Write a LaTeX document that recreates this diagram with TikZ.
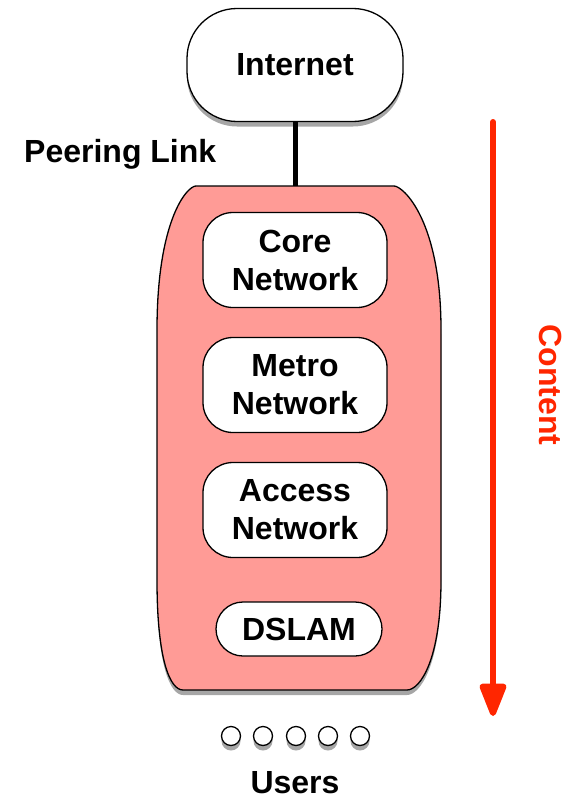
\documentclass[tikz,border=0pt]{standalone}
\usepackage{fontspec}
\setmainfont{Liberation Sans}
\usetikzlibrary{arrows.meta,shadows}
\definecolor{cloudpink}{RGB}{255,155,150}
\definecolor{contentred}{RGB}{255,38,0}
\tikzset{
  shad/.style={drop shadow={shadow xshift=0pt,shadow yshift=-5pt,opacity=0.35,fill=black}},
  netbox/.style={draw=black,line width=1.3pt,fill=white,rounded corners=30pt,align=center,
    font=\fontsize{32}{38}\selectfont\bfseries,inner sep=0pt},
  lbl/.style={font=\fontsize{32}{38}\selectfont\bfseries,inner sep=0pt},
  userdot/.style={circle,draw=black,line width=1.3pt,fill=white,minimum size=19pt,inner sep=0pt,shad},
}
\begin{document}
\begin{tikzpicture}[x=1pt,y=-1pt]
\useasboundingbox (0,0) rectangle (569,800);
% container
\draw[line width=1.3pt,fill=cloudpink,shad]
  (196,186) -- (394,186)
  .. controls (403,186) and (441,220) .. (441,330)
  -- (441,580)
  .. controls (441,660) and (420,690) .. (407,690)
  -- (183,690)
  .. controls (170,690) and (157,660) .. (157,580)
  -- (157,330)
  .. controls (157,220) and (187,186) .. (196,186) -- cycle;
\coordinate (ctop) at (295,186);
% internet
\node[netbox,rounded corners=50pt,minimum width=216pt,minimum height=113pt,shad] (inet) at (295,65) {Internet};
\draw[line width=5pt] (inet.south) -- (ctop);
\node[lbl,anchor=west] (peer) at (24,154) {Peering Link};
% inner boxes
\node[netbox,minimum width=184pt,minimum height=95pt] (core) at (295,260) {Core\\Network};
\node[netbox,minimum width=184pt,minimum height=95pt] (metro) at (295,385) {Metro\\Network};
\node[netbox,minimum width=184pt,minimum height=95pt] (access) at (295,510) {Access\\Network};
\node[netbox,rounded corners=27pt,minimum width=166pt,minimum height=54pt] (dslam) at (299,629) {DSLAM};
% users
\foreach \i/\x in {1/231,2/263,3/296,4/328,5/360}{
  \node[userdot] (u\i) at (\x,736) {};
}
\node[lbl] (users) at (295,783) {Users};
% content arrow
\coordinate (atop) at (493,122);
\coordinate (abot) at (493,716);
\draw[contentred,line width=6pt,line cap=round,-{Triangle[length=38pt,width=28pt,round=false]}] (atop) -- (abot);
\node[lbl,text=contentred,rotate=-90] (content) at (551,385) {Content};
\end{tikzpicture}
\end{document}
